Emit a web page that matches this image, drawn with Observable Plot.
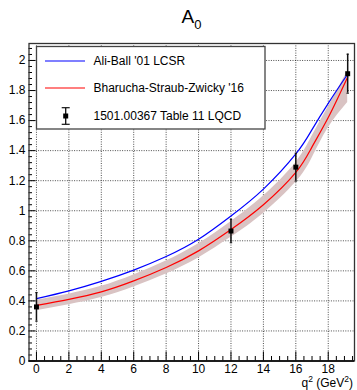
<!DOCTYPE html>
<html><head><meta charset="utf-8">
<script src="https://cdn.jsdelivr.net/npm/d3@7"></script>
<script src="https://cdn.jsdelivr.net/npm/@observablehq/plot@0.6"></script>
<style>
html,body{margin:0;padding:0;background:#fff;}
#chart{width:357px;height:390px;overflow:hidden;}
</style></head><body><div id="chart"></div>
<script>
// ---- data ----
const curveQ2 = [0, 2, 4, 6, 8, 10, 12, 14, 16, 17, 18, 19.2];
const aliBall = [0.415, 0.467, 0.530, 0.605, 0.695, 0.810, 0.965, 1.144, 1.378, 1.540, 1.715, 1.910];
const bsz     = [0.370, 0.410, 0.460, 0.533, 0.622, 0.733, 0.875, 1.040, 1.255, 1.425, 1.620, 1.890];
const bszLo   = [0.335, 0.375, 0.423, 0.493, 0.579, 0.686, 0.823, 0.982, 1.190, 1.350, 1.550, 1.720];
const bszHi   = [0.405, 0.445, 0.497, 0.573, 0.665, 0.780, 0.927, 1.098, 1.320, 1.495, 1.690, 1.930];
const lqcdQ2  = [0, 12, 16, 19.2];
const lqcdVal = [0.360, 0.865, 1.290, 1.912];
const lqcdErr = [0.095, 0.078, 0.093, 0.130];
const xTicks = [0, 2, 4, 6, 8, 10, 12, 14, 16, 18];
const yTicks = [0, 0.2, 0.4, 0.6, 0.8, 1, 1.2, 1.4, 1.6, 1.8, 2];
const legendLabels = ["Ali-Ball '01 LCSR", "Bharucha-Straub-Zwicky '16", "1501.00367 Table 11 LQCD"];
const titleMain = "A", titleSub = "0";

// ---- tables for Plot ----
const curves = curveQ2.map((q, i) => ({q2: q, ab: aliBall[i], bsz: bsz[i], lo: bszLo[i], hi: bszHi[i]}));
const lqcd = lqcdQ2.map((q, i) => ({q2: q, v: lqcdVal[i], e: lqcdErr[i]}));
const xMinor = d3.range(0, 19.6, 0.5).filter(v => Math.abs(v / 2 - Math.round(v / 2)) > 1e-6);
const yMinor = d3.range(0, 2.11, 0.04).filter(v => Math.abs(v / 0.2 - Math.round(v / 0.2)) > 1e-6);

const W = 357, H = 390, mL = 28.5, mR = 3, mT = 43, mB = 29.5;
const fw = W - mL - mR, fh = H - mT - mB;
const FONT = "'Liberation Sans', Arial, Helvetica, sans-serif";
const capSymbol = {draw(ctx, size) { const r = Math.sqrt(size / Math.PI); ctx.moveTo(-r, 0); ctx.lineTo(r, 0); }};
const fmt = d => String(+(+d).toFixed(2));

const plot = Plot.plot({
  width: W, height: H,
  marginLeft: mL, marginRight: mR, marginTop: mT, marginBottom: mB,
  style: {fontFamily: FONT, fontSize: "12px", background: "#fff", color: "#000"},
  x: {domain: [-0.46, 19.62], label: null},
  y: {domain: [0, 2.113], label: null},
  marks: [
    Plot.gridX(xTicks, {stroke: "#000", strokeOpacity: 0.7, strokeDasharray: "1,1.4", strokeWidth: 1}),
    Plot.gridY(yTicks.filter(d => d > 0), {stroke: "#000", strokeOpacity: 0.7, strokeDasharray: "1,1.4", strokeWidth: 1}),
    Plot.areaY(curves, {x: "q2", y1: "lo", y2: "hi", fill: "#d9c3c3", curve: "natural"}),
    Plot.line(curves, {x: "q2", y: "bsz", stroke: "#ff0000", strokeWidth: 1.2, curve: "natural"}),
    Plot.line(curves, {x: "q2", y: "ab", stroke: "#0000ff", strokeWidth: 1.2, curve: "natural"}),
    Plot.ruleX(lqcd, {x: "q2", y1: d => d.v - d.e, y2: d => d.v + d.e, stroke: "#111", strokeWidth: 1.5}),
    Plot.dot(lqcd, {x: "q2", y: d => d.v + d.e, symbol: capSymbol, r: 1.2, stroke: "#111", strokeWidth: 1, fill: "none"}),
    Plot.dot(lqcd, {x: "q2", y: d => d.v - d.e, symbol: capSymbol, r: 1.2, stroke: "#111", strokeWidth: 1, fill: "none"}),
    Plot.dot(lqcd, {x: "q2", y: "v", symbol: "square", r: 2.8, fill: "#000", stroke: "none"}),
    // inward ROOT-style ticks
    Plot.tickX(xTicks, {x: d => d, insetTop: fh - 9, stroke: "#000", strokeWidth: 1}),
    Plot.tickX(xMinor, {x: d => d, insetTop: fh - 4.5, stroke: "#000", strokeWidth: 1}),
    Plot.tickY(yTicks, {y: d => d, insetRight: fw - 7, stroke: "#000", strokeWidth: 1}),
    Plot.tickY(yMinor, {y: d => d, insetRight: fw - 3.5, stroke: "#000", strokeWidth: 1}),
    Plot.axisX(xTicks, {tickSize: 0, tickPadding: 3, label: null, tickFormat: fmt, fontSize: 12}),
    Plot.axisY(yTicks, {anchor: "left", tickSize: 0, tickPadding: 3.5, label: null, tickFormat: fmt, fontSize: 12}),
    Plot.frame({stroke: "#333", strokeWidth: 1.3}),
    Plot.ruleY([0], {stroke: "#000", strokeWidth: 1.6})
  ]
});
document.getElementById("chart").appendChild(plot);

// ---- title, axis title, legend ----
const svg = d3.select(plot);
const t = svg.append("text").attr("x", 191.5).attr("y", 22.7).attr("text-anchor", "middle")
  .style("font-family", FONT).style("font-size", "19px").attr("fill", "#000");
t.append("tspan").text(titleMain);
t.append("tspan").attr("dy", 6.6).style("font-size", "13px").text(titleSub);

const xl = svg.append("text").attr("x", 353).attr("y", 387).attr("text-anchor", "end")
  .style("font-family", FONT).style("font-size", "12px").attr("fill", "#000");
xl.append("tspan").text("q");
xl.append("tspan").attr("dy", -5).style("font-size", "8.5px").text("2");
xl.append("tspan").attr("dy", 5).text(" (GeV");
xl.append("tspan").attr("dy", -5).style("font-size", "8.5px").text("2");
xl.append("tspan").attr("dy", 5).text(")");

const lg = svg.append("g").style("font-family", FONT).style("font-size", "12px").attr("text-anchor", "start");
lg.append("rect").attr("x", 36.5).attr("y", 46.5).attr("width", 228.5).attr("height", 82.5)
  .attr("fill", "#fff").attr("stroke", "#444").attr("stroke-width", 1.3);
const rowY = [61, 88, 116];
lg.append("line").attr("x1", 45).attr("x2", 85).attr("y1", rowY[0]).attr("y2", rowY[0]).attr("stroke", "#0000ff").attr("stroke-width", 1.1);
lg.append("line").attr("x1", 45).attr("x2", 85).attr("y1", rowY[1]).attr("y2", rowY[1]).attr("stroke", "#ff0000").attr("stroke-width", 1.1);
lg.append("line").attr("x1", 65.7).attr("x2", 65.7).attr("y1", 107.7).attr("y2", 124.3).attr("stroke", "#111").attr("stroke-width", 1.3);
lg.append("line").attr("x1", 61.7).attr("x2", 69.7).attr("y1", 107.7).attr("y2", 107.7).attr("stroke", "#111").attr("stroke-width", 1.2);
lg.append("line").attr("x1", 61.7).attr("x2", 69.7).attr("y1", 124.3).attr("y2", 124.3).attr("stroke", "#111").attr("stroke-width", 1.2);
lg.append("rect").attr("x", 63.2).attr("y", rowY[2] - 2.5).attr("width", 5).attr("height", 5).attr("fill", "#000");
legendLabels.forEach((s, i) => {
  lg.append("text").attr("x", 93.5).attr("y", rowY[i] + 4.3).attr("text-anchor", "start").attr("fill", "#000").text(s);
});
</script>
</body></html>
